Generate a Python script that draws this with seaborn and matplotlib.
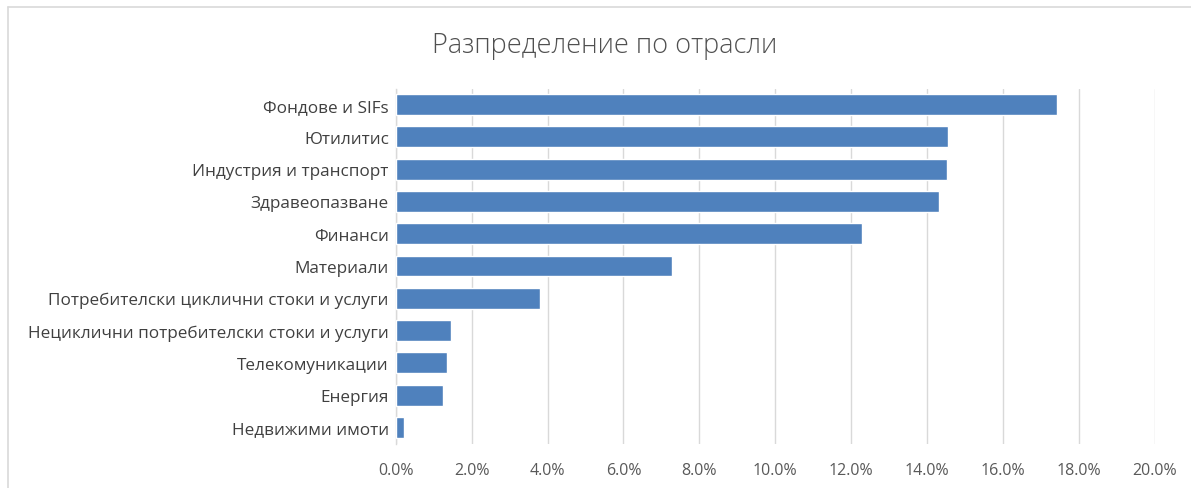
import matplotlib
matplotlib.use("Agg")
import matplotlib.pyplot as plt
from matplotlib.ticker import FuncFormatter, MultipleLocator
import pandas as pd
import seaborn as sns

# Sector allocation, share of portfolio in percent
sectors = [
    "Фондове и SIFs",
    "Ютилитис",
    "Индустрия и транспорт",
    "Здравеопазване",
    "Финанси",
    "Материали",
    "Потребителски циклични стоки и услуги",
    "Нециклични потребителски стоки и услуги",
    "Телекомуникации",
    "Енергия",
    "Недвижими имоти",
]
shares = [17.42, 14.56, 14.53, 14.32, 12.28, 7.28, 3.80, 1.46, 1.35, 1.25, 0.21]
title = "Разпределение по отрасли"

df = pd.DataFrame({"sector": sectors, "share": shares})

sns.set_theme(style="white")
plt.rcParams["font.family"] = ["Open Sans", "DejaVu Sans"]

fig = plt.figure(figsize=(11.91, 4.89), dpi=100)
ax = fig.add_axes([395.7 / 1191, 1 - 444.5 / 489, (1155 - 395.7) / 1191, (444.5 - 89.5) / 489])

sns.barplot(data=df, y="sector", x="share", orient="h", color="#4F81BD",
            saturation=1, width=0.65, ax=ax, zorder=3)

ax.set_xlim(0, 20)
ax.set_ylim(len(sectors) - 0.5, -0.5)
ax.xaxis.set_major_locator(MultipleLocator(2))
ax.xaxis.set_major_formatter(FuncFormatter(lambda v, p: f"{v:.1f}%"))
ax.grid(axis="x", color="#d9d9d9", linewidth=1.0, zorder=0)
ax.grid(axis="y", visible=False)
for s in ["top", "right", "bottom"]:
    ax.spines[s].set_visible(False)
ax.spines["left"].set_color("#d9d9d9")
ax.spines["left"].set_linewidth(1.0)
ax.set_xlabel("")
ax.set_ylabel("")
ax.tick_params(axis="x", length=0, pad=13, labelsize=11.5, labelcolor="#595959")
ax.tick_params(axis="y", length=0, pad=5, labelsize=12.3, labelcolor="#404040")

fig.text(605 / 1191, 1 - 46 / 489, title, ha="center", va="center",
         fontsize=19.5, color="#505050", fontweight="light")

# chart frame
fig.add_artist(plt.Line2D([8 / 1191, 1], [1 - 8 / 489, 1 - 8 / 489],
                          color="#d9d9d9", linewidth=1.2, transform=fig.transFigure))
fig.add_artist(plt.Line2D([8 / 1191, 8 / 1191], [0, 1 - 8 / 489],
                          color="#d9d9d9", linewidth=1.2, transform=fig.transFigure))

fig.savefig("out.png", dpi=100, facecolor="white")
